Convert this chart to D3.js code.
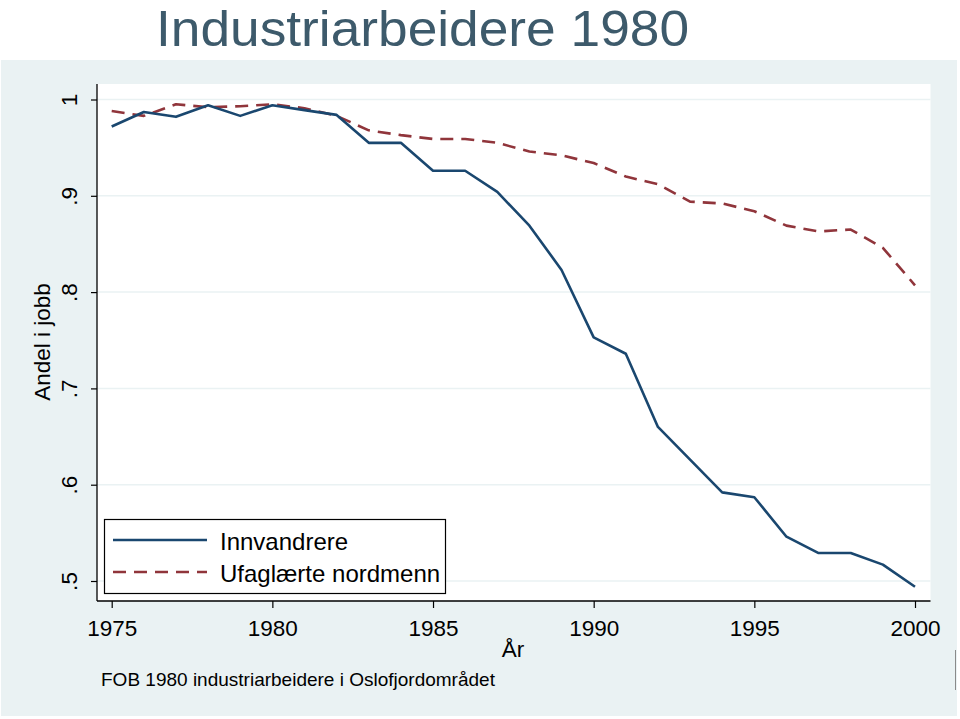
<!DOCTYPE html>
<html>
<head>
<meta charset="utf-8">
<script src="https://cdn.jsdelivr.net/npm/d3@7"></script>
<style>
  html, body { margin: 0; padding: 0; background: #ffffff; }
  svg { display: block; font-family: "Liberation Sans", Arial, Helvetica, sans-serif; }
</style>
</head>
<body>
<svg id="chart" width="960" height="719"></svg>
<script>
const years = [1975,1976,1977,1978,1979,1980,1981,1982,1983,1984,1985,1986,1987,1988,1989,1990,1991,1992,1993,1994,1995,1996,1997,1998,1999,2000];
const innvandrere = [0.972,0.987,0.982,0.994,0.983,0.994,0.989,0.984,0.955,0.955,0.926,0.926,0.904,0.869,0.823,0.753,0.736,0.660,0.626,0.592,0.587,0.546,0.529,0.529,0.517,0.494];
const ufaglaerte = [0.988,0.983,0.995,0.992,0.993,0.995,0.991,0.983,0.968,0.963,0.959,0.959,0.955,0.946,0.942,0.934,0.920,0.912,0.894,0.892,0.884,0.869,0.863,0.865,0.846,0.807];
const seriesNames = ["Innvandrere", "Ufaglærte nordmenn"];
const xTicks = [1975, 1980, 1985, 1990, 1995, 2000];
const yTicks = [0.5, 0.6, 0.7, 0.8, 0.9, 1];
const yTickLabels = [".5", ".6", ".7", ".8", ".9", "1"];
const titleText = "Industriarbeidere 1980";
const yTitle = "Andel i jobb";
const xTitle = "År";
const noteText = "FOB 1980 industriarbeidere i Oslofjordområdet";

const colors = ["#1a476f", "#90353b"];
const bg = "#eaf2f3";

const svg = d3.select("#chart");

// outer graph region
svg.append("rect").attr("x", 1).attr("y", 60).attr("width", 956).attr("height", 656).attr("fill", bg);
// artifact line at right
svg.append("line").attr("x1", 955.5).attr("x2", 955.5).attr("y1", 650).attr("y2", 690)
  .attr("stroke", "#8a8a8a").attr("stroke-width", 1);

// plot area
const plot = {left: 97, right: 930.5, top: 84, bottom: 601};
svg.append("rect").attr("x", plot.left).attr("y", plot.top)
  .attr("width", plot.right - plot.left).attr("height", plot.bottom - plot.top).attr("fill", "#ffffff");

const x = d3.scaleLinear().domain([1975, 2000]).range([111.7, 915]);
const y = d3.scaleLinear().domain([0.5, 1]).range([581, 99.5]);

// gridlines
svg.append("g").selectAll("line").data(yTicks).join("line")
  .attr("x1", plot.left).attr("x2", plot.right)
  .attr("y1", d => y(d)).attr("y2", d => y(d))
  .attr("stroke", bg).attr("stroke-width", 1.5);

// y axis
const yAxis = d3.axisLeft(y).tickValues(yTicks).tickSize(6).tickFormat((d, i) => yTickLabels[i]);
const gy = svg.append("g").attr("transform", `translate(${plot.left},0)`).call(yAxis);
gy.select(".domain").remove();
gy.selectAll(".tick line").attr("stroke", "#000").attr("stroke-width", 1.2);
gy.selectAll(".tick text")
  .attr("x", 0).attr("y", 0)
  .attr("transform", "translate(-20,0) rotate(-90)")
  .attr("text-anchor", "middle")
  .attr("dy", 0)
  .attr("font-size", 22.5)
  .attr("fill", "#000")
  .style("font-family", "'Liberation Sans', Arial, sans-serif");
svg.append("line").attr("x1", plot.left).attr("x2", plot.left)
  .attr("y1", plot.top).attr("y2", plot.bottom).attr("stroke", "#000").attr("stroke-width", 1.3);

// x axis
const xAxis = d3.axisBottom(x).tickValues(xTicks).tickSize(7).tickFormat(d3.format("d"));
const gx = svg.append("g").attr("transform", `translate(0,${plot.bottom})`).call(xAxis);
gx.select(".domain").remove();
gx.selectAll(".tick line").attr("stroke", "#000").attr("stroke-width", 1.2);
gx.selectAll(".tick text")
  .attr("y", 35).attr("dy", 0)
  .attr("font-size", 22.5)
  .attr("fill", "#000")
  .style("font-family", "'Liberation Sans', Arial, sans-serif");
svg.append("line").attr("x1", plot.left).attr("x2", plot.right)
  .attr("y1", plot.bottom).attr("y2", plot.bottom).attr("stroke", "#000").attr("stroke-width", 1.3);

// lines
const line = d3.line().x((d, i) => x(years[i])).y(d => y(d));
svg.append("path").datum(ufaglaerte).attr("d", line)
  .attr("fill", "none").attr("stroke", colors[1]).attr("stroke-width", 2.6)
  .attr("stroke-dasharray", "13,8").attr("stroke-linejoin", "round");
svg.append("path").datum(innvandrere).attr("d", line)
  .attr("fill", "none").attr("stroke", colors[0]).attr("stroke-width", 2.6)
  .attr("stroke-linejoin", "round");

// legend
const lg = svg.append("g");
lg.append("rect").attr("x", 104.5).attr("y", 519.5).attr("width", 341).attr("height", 74)
  .attr("fill", "#fff").attr("stroke", "#000").attr("stroke-width", 1.2);
const legRows = [540, 572];
seriesNames.forEach((name, i) => {
  lg.append("line").attr("x1", 113).attr("x2", 207).attr("y1", legRows[i]).attr("y2", legRows[i])
    .attr("stroke", colors[i]).attr("stroke-width", 2.6)
    .attr("stroke-dasharray", i === 1 ? "13,8" : null);
  lg.append("text").attr("x", 220).attr("y", legRows[i] + 10)
    .attr("font-size", 24).attr("fill", "#000").text(name);
});

// title
svg.append("text").attr("x", 156).attr("y", 45.5)
  .attr("font-size", 50).attr("fill", "#3d5a6b")
  .attr("textLength", 533).attr("lengthAdjust", "spacingAndGlyphs")
  .text(titleText);

// y title
svg.append("text").attr("transform", "translate(50,342) rotate(-90)")
  .attr("text-anchor", "middle").attr("font-size", 22.5).attr("fill", "#000").text(yTitle);

// x title
svg.append("text").attr("x", 513).attr("y", 657)
  .attr("text-anchor", "middle").attr("font-size", 22.5).attr("fill", "#000").text(xTitle);

// note
svg.append("text").attr("x", 101).attr("y", 686)
  .attr("font-size", 19).attr("fill", "#000").text(noteText);
</script>
</body>
</html>
